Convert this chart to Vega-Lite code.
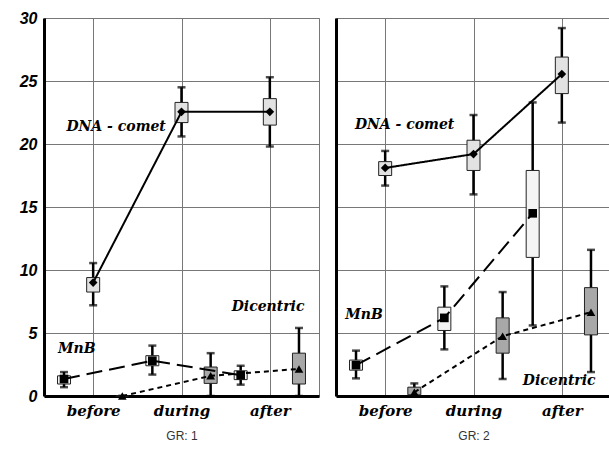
{
  "$schema": "https://vega.github.io/schema/vega-lite/v6.json",
  "padding": {"left": 5, "top": 9, "right": 0, "bottom": 0},
  "background": "white",
  "spacing": 15,
  "config": {
    "view": {"stroke": "#777", "strokeWidth": 1},
    "axis": {"gridColor": "#777", "gridWidth": 1, "gridOpacity": 1}
  },
  "datasets": {
    "stats": [
      {"g": "GR: 1", "s": "DNA", "x": 1, "m": 9.0, "lo": 7.2, "hi": 10.55, "q1": 8.25, "q3": 9.4},
      {"g": "GR: 1", "s": "DNA", "x": 2, "m": 22.55, "lo": 20.6, "hi": 24.5, "q1": 21.7, "q3": 23.3},
      {"g": "GR: 1", "s": "DNA", "x": 3, "m": 22.55, "lo": 19.8, "hi": 25.3, "q1": 21.5, "q3": 23.6},
      {"g": "GR: 1", "s": "MnB", "x": 0.67, "m": 1.35, "lo": 0.7, "hi": 1.9, "q1": 0.95, "q3": 1.6},
      {"g": "GR: 1", "s": "MnB", "x": 1.67, "m": 2.8, "lo": 1.7, "hi": 4.0, "q1": 2.4, "q3": 3.2},
      {"g": "GR: 1", "s": "MnB", "x": 2.67, "m": 1.65, "lo": 0.9, "hi": 2.4, "q1": 1.3, "q3": 2.0},
      {"g": "GR: 1", "s": "Dic", "x": 1.33, "m": 0.0, "lo": 0.0, "hi": 0.0, "q1": 0.0, "q3": 0.0},
      {"g": "GR: 1", "s": "Dic", "x": 2.33, "m": 1.6, "lo": 0.0, "hi": 3.4, "q1": 1.0, "q3": 2.3},
      {"g": "GR: 1", "s": "Dic", "x": 3.33, "m": 2.15, "lo": 0.0, "hi": 5.4, "q1": 0.95, "q3": 3.4},
      {"g": "GR: 2", "s": "DNA", "x": 1, "m": 18.1, "lo": 16.7, "hi": 19.45, "q1": 17.5, "q3": 18.6},
      {"g": "GR: 2", "s": "DNA", "x": 2, "m": 19.2, "lo": 16.0, "hi": 22.3, "q1": 17.9, "q3": 20.3},
      {"g": "GR: 2", "s": "DNA", "x": 3, "m": 25.55, "lo": 21.7, "hi": 29.2, "q1": 24.0, "q3": 26.9},
      {"g": "GR: 2", "s": "MnB", "x": 0.67, "m": 2.45, "lo": 1.4, "hi": 3.6, "q1": 2.05, "q3": 2.85},
      {"g": "GR: 2", "s": "MnB", "x": 1.67, "m": 6.2, "lo": 3.7, "hi": 8.7, "q1": 5.2, "q3": 7.05},
      {"g": "GR: 2", "s": "MnB", "x": 2.67, "m": 14.5, "lo": 5.6, "hi": 23.3, "q1": 11.0, "q3": 17.9},
      {"g": "GR: 2", "s": "Dic", "x": 1.33, "m": 0.3, "lo": 0.0, "hi": 1.0, "q1": 0.1, "q3": 0.7},
      {"g": "GR: 2", "s": "Dic", "x": 2.33, "m": 4.75, "lo": 1.35, "hi": 8.25, "q1": 3.4, "q3": 6.2},
      {"g": "GR: 2", "s": "Dic", "x": 3.33, "m": 6.65, "lo": 1.9, "hi": 11.6, "q1": 4.85, "q3": 8.6}
    ],
    "labels": [
      {"g": "GR: 1", "x": 1.26, "y": 21.35, "t": "DNA - comet"},
      {"g": "GR: 1", "x": 0.815, "y": 3.7, "t": "MnB"},
      {"g": "GR: 1", "x": 2.98, "y": 7.06, "t": "Dicentric"},
      {"g": "GR: 2", "x": 1.22, "y": 21.5, "t": "DNA - comet"},
      {"g": "GR: 2", "x": 0.76, "y": 6.4, "t": "MnB"},
      {"g": "GR: 2", "x": 2.97, "y": 1.2, "t": "Dicentric"}
    ]
  },
  "hconcat": [
    {
      "width": 275,
      "height": 378,
      "layer": [
        {
          "data": {"name": "stats"},
          "transform": [{"filter": "datum.g == 'GR: 1'"}],
          "layer": [
            {
              "mark": {"type": "rule", "color": "black", "strokeWidth": 2.5},
              "encoding": {
                "x": {"field": "x", "type": "quantitative", "scale": {"domain": [0.5, 3.5], "nice": false, "zero": false},
                  "axis": {"values": [1, 2, 3], "labelExpr": "datum.value == 1 ? 'before' : datum.value == 2 ? 'during' : 'after'",
                    "title": "GR: 1", "titleFont": "Liberation Sans", "titleFontWeight": "normal", "titleFontSize": 12, "titleColor": "#333", "titlePadding": 12,
                    "labelFont": "DejaVu Serif", "labelFontStyle": "italic", "labelFontWeight": "bold", "labelFontSize": 15, "labelColor": "black", "labelPadding": 7,
                    "domainColor": "black", "domainWidth": 3, "tickColor": "black", "tickSize": 0, "grid": true}},
                "y": {"field": "lo", "type": "quantitative", "scale": {"domain": [0, 30], "nice": false},
                  "axis": {"values": [0, 5, 10, 15, 20, 25, 30], "title": null, "labelFont": "Liberation Sans", "labelFontStyle": "italic", "labelFontWeight": "bold", "labelFontSize": 16, "labelColor": "black", "labelPadding": 7,
                    "domainColor": "black", "domainWidth": 3, "tickSize": 0, "minExtent": 38, "maxExtent": 38, "grid": true}},
                "y2": {"field": "hi"}
              }
            },
            {
              "mark": {"type": "tick", "orient": "horizontal", "color": "black", "size": 8, "thickness": 2.5},
              "encoding": {"x": {"field": "x", "type": "quantitative"}, "y": {"field": "hi", "type": "quantitative"}}
            },
            {
              "mark": {"type": "tick", "orient": "horizontal", "color": "black", "size": 8, "thickness": 2.5},
              "encoding": {"x": {"field": "x", "type": "quantitative"}, "y": {"field": "lo", "type": "quantitative"}}
            },
            {
              "mark": {"type": "bar", "width": 13, "stroke": "#222", "strokeWidth": 1},
              "encoding": {
                "x": {"field": "x", "type": "quantitative"},
                "y": {"field": "q1", "type": "quantitative"},
                "y2": {"field": "q3"},
                "fill": {"field": "s", "type": "nominal", "scale": {"domain": ["DNA", "MnB", "Dic"], "range": ["#e2e2e2", "#f4f4f4", "#a8a8a8"]}, "legend": null}
              }
            },
            {
              "mark": {"type": "line", "color": "black", "strokeWidth": 2},
              "encoding": {
                "x": {"field": "x", "type": "quantitative"},
                "y": {"field": "m", "type": "quantitative"},
                "detail": {"field": "s"},
                "strokeDash": {"field": "s", "type": "nominal", "scale": {"domain": ["DNA", "MnB", "Dic"], "range": [[1, 0], [16, 7], [5, 4]]}, "legend": null}
              }
            },
            {
              "mark": {"type": "point", "filled": true, "color": "black", "opacity": 1, "size": 75},
              "encoding": {
                "x": {"field": "x", "type": "quantitative"},
                "y": {"field": "m", "type": "quantitative"},
                "shape": {"field": "s", "type": "nominal", "scale": {"domain": ["DNA", "MnB", "Dic"], "range": ["diamond", "square", "triangle-up"]}, "legend": null}
              }
            }
          ]
        },
        {
          "data": {"name": "labels"},
          "transform": [{"filter": "datum.g == 'GR: 1'"}],
          "mark": {"type": "text", "font": "DejaVu Serif", "fontStyle": "italic", "fontWeight": "bold", "fontSize": 14, "color": "black"},
          "encoding": {
            "x": {"field": "x", "type": "quantitative"},
            "y": {"field": "y", "type": "quantitative"},
            "text": {"field": "t"}
          }
        }
      ]
    },
    {
      "width": 275,
      "height": 378,
      "layer": [
        {
          "data": {"name": "stats"},
          "transform": [{"filter": "datum.g == 'GR: 2'"}],
          "layer": [
            {
              "mark": {"type": "rule", "color": "black", "strokeWidth": 2.5},
              "encoding": {
                "x": {"field": "x", "type": "quantitative", "scale": {"domain": [0.5, 3.5], "nice": false, "zero": false},
                  "axis": {"values": [1, 2, 3], "labelExpr": "datum.value == 1 ? 'before' : datum.value == 2 ? 'during' : 'after'",
                    "title": "GR: 2", "titleFont": "Liberation Sans", "titleFontWeight": "normal", "titleFontSize": 12, "titleColor": "#333", "titlePadding": 12,
                    "labelFont": "DejaVu Serif", "labelFontStyle": "italic", "labelFontWeight": "bold", "labelFontSize": 15, "labelColor": "black", "labelPadding": 7,
                    "domainColor": "black", "domainWidth": 3, "tickColor": "black", "tickSize": 0, "grid": true}},
                "y": {"field": "lo", "type": "quantitative", "scale": {"domain": [0, 30], "nice": false},
                  "axis": {"values": [0, 5, 10, 15, 20, 25, 30], "title": null, "labels": false, "domainColor": "black", "domainWidth": 3, "tickSize": 0, "minExtent": 0, "maxExtent": 0, "grid": true}},
                "y2": {"field": "hi"}
              }
            },
            {
              "mark": {"type": "tick", "orient": "horizontal", "color": "black", "size": 8, "thickness": 2.5},
              "encoding": {"x": {"field": "x", "type": "quantitative"}, "y": {"field": "hi", "type": "quantitative"}}
            },
            {
              "mark": {"type": "tick", "orient": "horizontal", "color": "black", "size": 8, "thickness": 2.5},
              "encoding": {"x": {"field": "x", "type": "quantitative"}, "y": {"field": "lo", "type": "quantitative"}}
            },
            {
              "mark": {"type": "bar", "width": 13, "stroke": "#222", "strokeWidth": 1},
              "encoding": {
                "x": {"field": "x", "type": "quantitative"},
                "y": {"field": "q1", "type": "quantitative"},
                "y2": {"field": "q3"},
                "fill": {"field": "s", "type": "nominal", "scale": {"domain": ["DNA", "MnB", "Dic"], "range": ["#e2e2e2", "#f4f4f4", "#a8a8a8"]}, "legend": null}
              }
            },
            {
              "mark": {"type": "line", "color": "black", "strokeWidth": 2},
              "encoding": {
                "x": {"field": "x", "type": "quantitative"},
                "y": {"field": "m", "type": "quantitative"},
                "detail": {"field": "s"},
                "strokeDash": {"field": "s", "type": "nominal", "scale": {"domain": ["DNA", "MnB", "Dic"], "range": [[1, 0], [16, 7], [5, 4]]}, "legend": null}
              }
            },
            {
              "mark": {"type": "point", "filled": true, "color": "black", "opacity": 1, "size": 75},
              "encoding": {
                "x": {"field": "x", "type": "quantitative"},
                "y": {"field": "m", "type": "quantitative"},
                "shape": {"field": "s", "type": "nominal", "scale": {"domain": ["DNA", "MnB", "Dic"], "range": ["diamond", "square", "triangle-up"]}, "legend": null}
              }
            }
          ]
        },
        {
          "data": {"name": "labels"},
          "transform": [{"filter": "datum.g == 'GR: 2'"}],
          "mark": {"type": "text", "font": "DejaVu Serif", "fontStyle": "italic", "fontWeight": "bold", "fontSize": 14, "color": "black"},
          "encoding": {
            "x": {"field": "x", "type": "quantitative"},
            "y": {"field": "y", "type": "quantitative"},
            "text": {"field": "t"}
          }
        }
      ]
    }
  ]
}
